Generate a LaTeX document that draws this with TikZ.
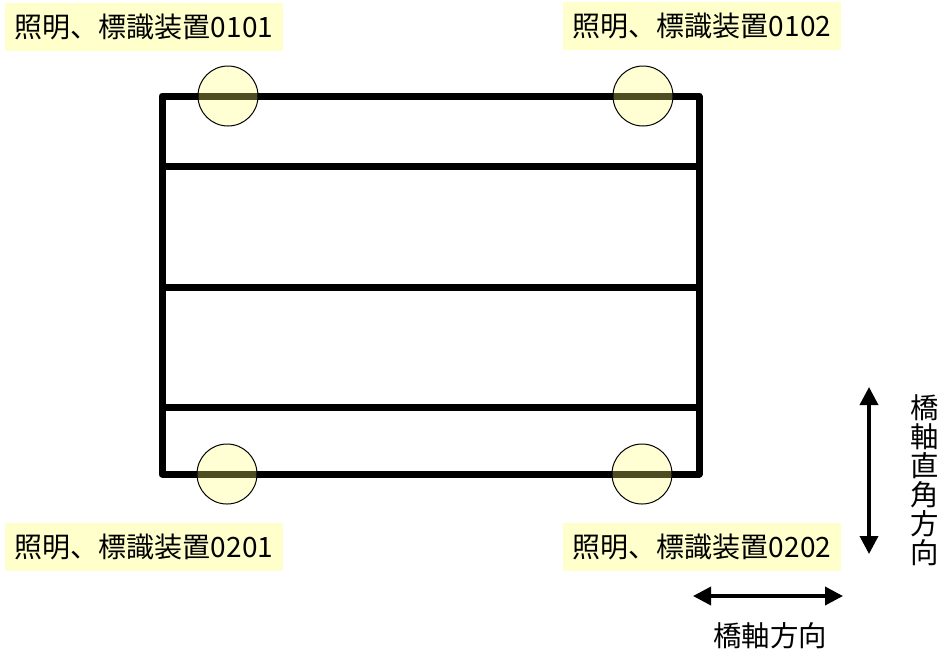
\documentclass[tikz,border=0pt]{standalone}
\usepackage{fontspec}
\setmainfont{Noto Sans CJK JP}
\usetikzlibrary{arrows.meta}
\definecolor{tagFill}{RGB}{255,255,204}
\definecolor{lampFill}{RGB}{255,255,110}
\newcommand\frameLeft{162}
\newcommand\frameRight{699}
\newcommand\frameTop{96}
\newcommand\frameBottom{474}
\newcommand\lampLeft{228}
\newcommand\lampRight{643}
\newcommand\tagLeft{144}
\newcommand\tagRight{702}

\begin{document}
\begin{tikzpicture}[x=0.5pt,y=-0.5pt,
    deck/.style={line width=3.5pt, line join=round, black},
    lamp/.style={circle, draw=black, line width=0.5pt, fill=lampFill, fill opacity=0.3, text opacity=1, minimum size=30pt, inner sep=0pt},
    tag/.style={fill=tagFill, minimum width=139pt, minimum height=24pt, inner sep=0pt, font=\fontsize{14pt}{15pt}\selectfont},
    dirArrow/.style={line width=1.8pt, {Triangle[length=9pt,width=9pt]}-{Triangle[length=9pt,width=9pt]}},
    dirText/.style={font=\fontsize{14.2pt}{14.5pt}\selectfont, inner sep=0pt}]
    \useasboundingbox (0,0) rectangle (946,655);

    % the deck frame and cross beams
    \draw[deck] (\frameLeft,\frameTop) rectangle (\frameRight,\frameBottom);
    \foreach \yy in {166,287,407}{
      \draw[deck] (\frameLeft,\yy) -- (\frameRight,\yy);
    }

    % lamps at the corners
    \node[lamp] (lamp0101) at (\lampLeft,\frameTop) {};
    \node[lamp] (lamp0102) at (\lampRight,\frameTop) {};
    \node[lamp] (lamp0201) at (\lampLeft-1,\frameBottom) {};
    \node[lamp] (lamp0202) at (\lampRight-1,\frameBottom) {};

    % labels
    \node[tag] (tag0101) at (\tagLeft,27) {照明、標識装置0101};
    \node[tag] (tag0102) at (\tagRight,26) {照明、標識装置0102};
    \node[tag] (tag0201) at (\tagLeft,547) {照明、標識装置0201};
    \node[tag] (tag0202) at (\tagRight,547) {照明、標識装置0202};

    % direction arrows
    \coordinate (crossTop) at (869,387);
    \coordinate (crossBot) at (869,554);
    \draw[dirArrow] (crossTop) -- (crossBot);
    \node[dirText, align=center] (crossText) at (925,480) {橋\\軸\\直\\角\\方\\向};

    \coordinate (axisLeft) at (693,596);
    \coordinate (axisRight) at (843,596);
    \draw[dirArrow] (axisLeft) -- (axisRight);
    \node[dirText] (axisText) at (770,636) {橋軸方向};

  \end{tikzpicture}
\end{document}
